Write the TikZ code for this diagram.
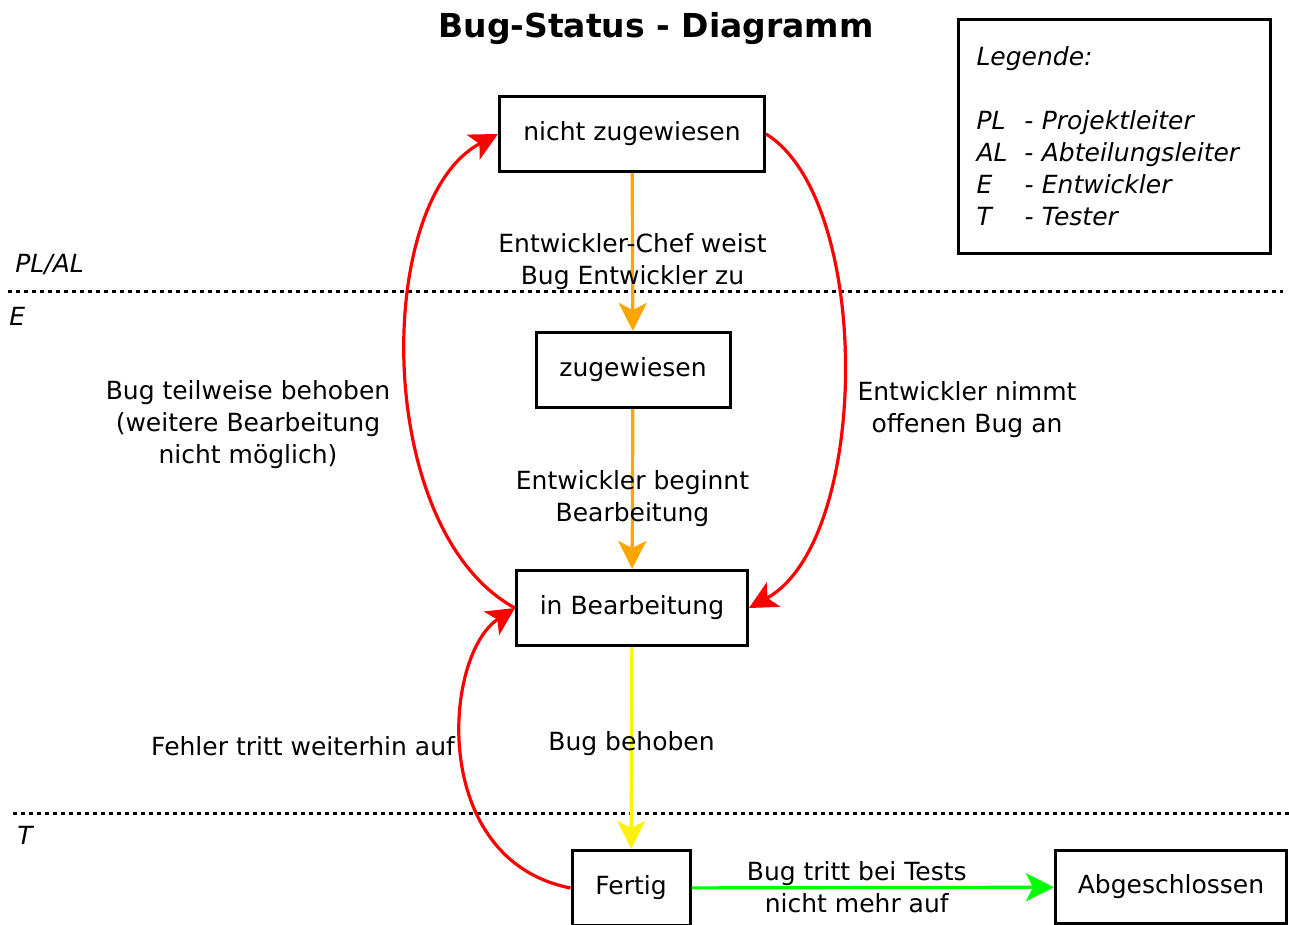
\documentclass[tikz,border=0pt]{standalone}
\usepackage{fontspec}
\setmainfont{DejaVu Sans}
\usetikzlibrary{arrows.meta}
\definecolor{bugorange}{RGB}{255,165,0}

\begin{document}
\begin{tikzpicture}[x=0.5pt, y=-0.5pt, font=\fontsize{12.5}{16}\selectfont,
    state/.style={draw, line width=1.5pt, minimum height=37.5pt},
    flow/.style={line width=1.6pt, -{Stealth[length=14pt, width=14pt, inset=3.5pt]}},
    lbl/.style={align=center, text=black},
    lane/.style={line width=1.5pt, dash pattern=on 2pt off 2pt}]
    \useasboundingbox (0,0) rectangle (1289,925);

    % title and legend
    \node[font=\fontsize{16.5}{20}\selectfont\bfseries] (title) at (656,29) {Bug-Status - Diagramm};
    \node[draw, line width=1.5pt, anchor=north west, minimum width=156pt, minimum height=117pt,
          inner xsep=9pt, text width=138pt, align=left, font=\fontsize{12.5}{16}\selectfont\itshape]
          (legende) at (957,18)
          {Legende:\\[16pt]
           \makebox[24pt][l]{PL}- Projektleiter\\
           \makebox[24pt][l]{AL}- Abteilungsleiter\\
           \makebox[24pt][l]{E}- Entwickler\\
           \makebox[24pt][l]{T}- Tester};

    % lanes
    \draw[lane] (8,291) -- (1283,291);
    \draw[lane] (13,813) -- (1289,813);
    \node[anchor=west, inner sep=0, font=\fontsize{12.5}{16}\selectfont\itshape] (lpl) at (15,265) {PL/AL};
    \node[anchor=west, inner sep=0, font=\fontsize{12.5}{16}\selectfont\itshape] (le) at (9,316) {E};
    \node[anchor=west, inner sep=0, font=\fontsize{12.5}{16}\selectfont\itshape] (lt) at (17,835) {T};

    % states
    \node[state, minimum width=132.5pt] (nz) at (632,134) {nicht zugewiesen};
    \node[state, minimum width=97pt] (zw) at (633,370) {zugewiesen};
    \node[state, minimum width=115.5pt] (ib) at (632,608) {in Bearbeitung};
    \node[state, minimum width=59pt] (fe) at (631,888) {Fertig};
    \node[state, minimum width=115.5pt, minimum height=36.5pt] (ab) at (1171,887) {Abgeschlossen};

    % transitions
    \draw[flow, bugorange] (nz) -- node[lbl, yshift=-5pt] {Entwickler-Chef weist\\Bug Entwickler zu} (zw);
    \draw[flow, bugorange] (zw) -- node[lbl, yshift=-5pt] {Entwickler beginnt\\Bearbeitung} (ib);
    \draw[flow, yellow] (ib) -- node[lbl, yshift=2pt] {Bug behoben} (fe);
    \draw[flow, green] (fe) -- node[lbl, xshift=-8pt] {Bug tritt bei Tests\\nicht mehr auf} (ab);
    \draw[flow, red] (nz.east) .. controls +(107,66) and +(122,-67) .. (ib.east);
    \draw[flow, red] (ib.west) .. controls +(-142,-77) and +(-125,66) .. (nz.west);
    \draw[flow, red] (fe.west) .. controls +(-142,-28) and +(-72,47) .. (ib.west);

    \node[lbl] (lteil) at (248,425) {Bug teilweise behoben\\(weitere Bearbeitung\\nicht möglich)};
    \node[lbl] (lnimmt) at (967,410) {Entwickler nimmt\\offenen Bug an};
    \node[lbl, anchor=east] (lfehler) at (462,746) {Fehler tritt weiterhin auf};
\end{tikzpicture}
\end{document}
